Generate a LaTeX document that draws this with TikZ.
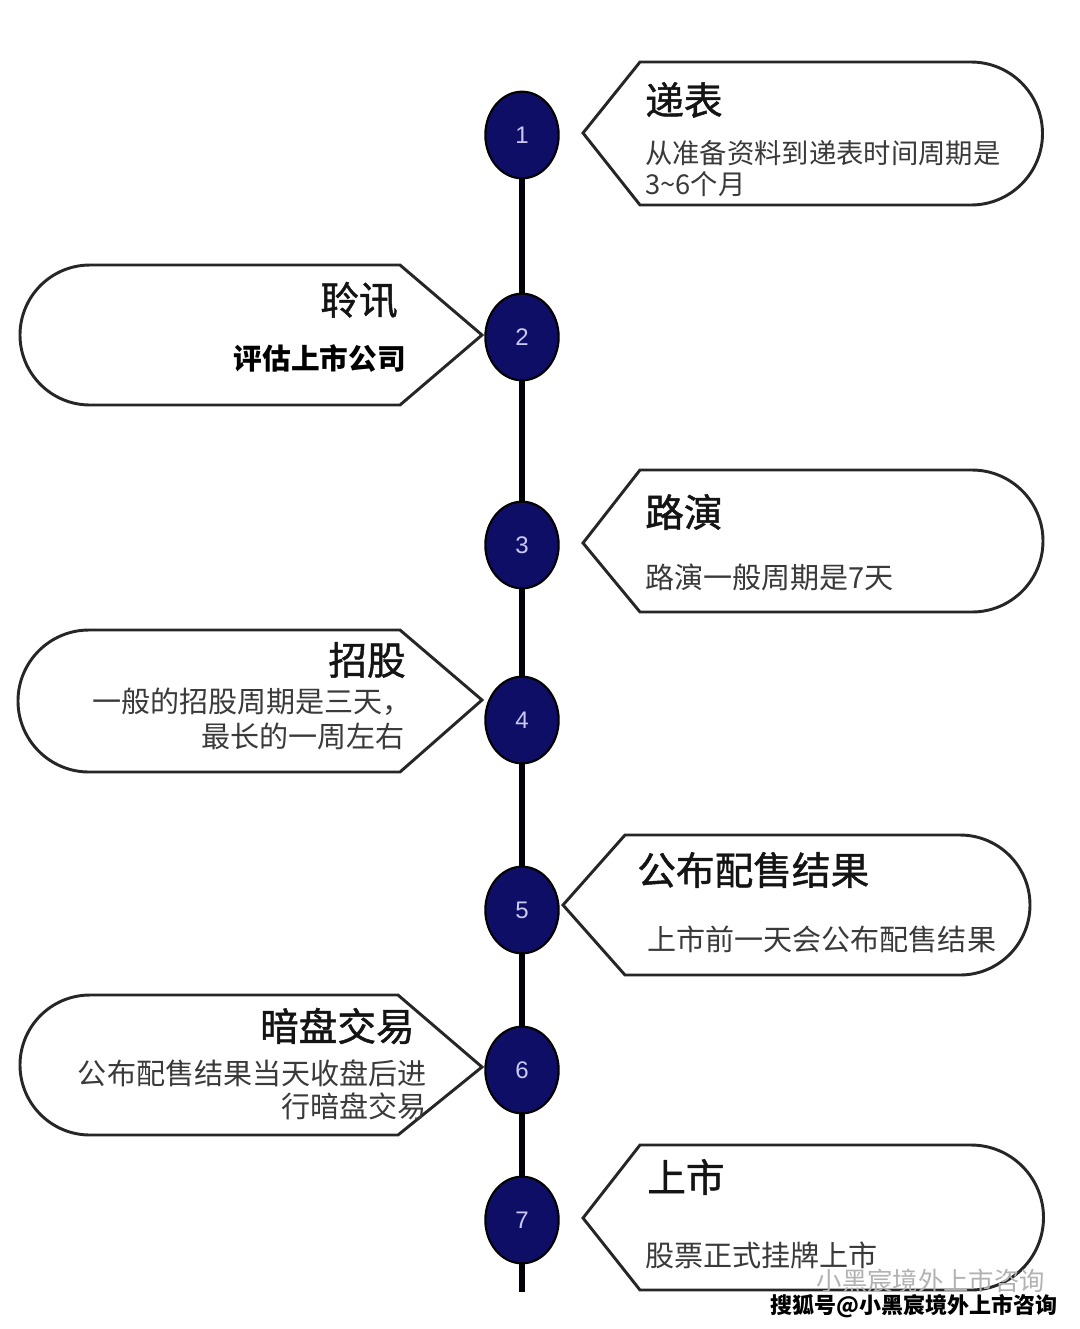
\documentclass[tikz,border=0pt]{standalone}
\usepackage{fontspec}
\setmainfont{Noto Sans CJK SC}
\newfontfamily\numfont{Liberation Sans}
\newfontfamily\ttlfont[FakeBold=1.2]{Noto Sans CJK SC}
\usetikzlibrary{shapes.geometric}
\definecolor{navy}{HTML}{0E0E66}
\definecolor{numcol}{HTML}{C9C9F2}
\definecolor{bodygray}{HTML}{3A3A3A}
\tikzset{
  dotnode/.style={ellipse, draw=black, line width=1.6pt, fill=navy, minimum width=55pt, minimum height=65pt, inner sep=0pt, text=numcol, font=\numfont\fontsize{18}{18}\selectfont},
  callout/.style={draw=black!85, line width=2.2pt, fill=white, line join=miter},
  ttl/.style={inner sep=0pt, text=black!92, font=\ttlfont\fontsize{29}{32}\selectfont},
  bdy/.style={inner sep=0pt, text=bodygray, font=\fontsize{21.8}{24}\selectfont},
  spine/.style={line width=5pt, draw=black!90!navy}
}
\begin{document}
\begin{tikzpicture}[x=0.75pt,y=-0.75pt]
\useasboundingbox[fill=white] (0,0) rectangle (1080,1329);
% spine
\coordinate (top) at (522,100);
\coordinate (bot) at (522,1292);
\draw[spine] (top) -- (bot);
% callouts (right)
\draw[callout] (583,133) coordinate (t1) -- (640,62) -- (971,62) arc[start angle=-90,end angle=90,radius=71.5] -- (640,205) -- cycle;
\draw[callout] (583,543) coordinate (t3) -- (640,470) -- (972,470) arc[start angle=-90,end angle=90,radius=71] -- (640,612) -- cycle;
\draw[callout] (563,905) coordinate (t5) -- (625,835) -- (960,835) arc[start angle=-90,end angle=90,radius=70] -- (625,975) -- cycle;
\draw[callout] (583,1218) coordinate (t7) -- (640,1145) -- (971,1145) arc[start angle=-90,end angle=90,radius=72.5] -- (640,1290) -- cycle;
% callouts (left)
\draw[callout] (482,335) coordinate (t2) -- (400,265) -- (90,265) arc[start angle=-90,end angle=-270,radius=70] -- (400,405) -- cycle;
\draw[callout] (482,700) coordinate (t4) -- (400,630) -- (89,630) arc[start angle=-90,end angle=-270,radius=71] -- (400,772) -- cycle;
\draw[callout] (482,1067) coordinate (t6) -- (398,995) -- (90,995) arc[start angle=-90,end angle=-270,radius=70] -- (398,1135) -- cycle;
% dots
\node[dotnode] (c1) at (522,135) {1};
\node[dotnode] (c2) at (522,337) {2};
\node[dotnode] (c3) at (522,545) {3};
\node[dotnode] (c4) at (522,720) {4};
\node[dotnode] (c5) at (522,910) {5};
\node[dotnode] (c6) at (522,1070) {6};
\node[dotnode] (c7) at (522,1220) {7};
% texts 1
\node[ttl, anchor=west] (h1) at (645,100) {递表};
\node[bdy, anchor=west, font=\fontsize{20.5}{24}\selectfont] (b1a) at (645,153) {从准备资料到递表时间周期是};
\node[bdy, anchor=west, font=\fontsize{20.5}{24}\selectfont] (b1b) at (645,184) {3\textasciitilde 6个月};
% texts 2
\node[ttl, anchor=east] (h2) at (398,300) {聆讯};
\node[inner sep=0pt, anchor=east, font=\bfseries\fontsize{21.5}{24}\selectfont] (b2) at (406,358) {评估上市公司};
% texts 3
\node[ttl, anchor=west] (h3) at (645,512) {路演};
\node[bdy, anchor=west] (b3) at (645,577) {路演一般周期是7天};
% texts 4
\node[ttl, anchor=east] (h4) at (406,660) {招股};
\node[bdy, anchor=east] (b4a) at (412,702) {一般的招股周期是三天，};
\node[bdy, anchor=east] (b4b) at (405,736) {最长的一周左右};
% texts 5
\node[ttl, anchor=west] (h5) at (637,870) {公布配售结果};
\node[bdy, anchor=west] (b5) at (647,939) {上市前一天会公布配售结果};
% texts 6
\node[ttl, anchor=east] (h6) at (415,1026) {暗盘交易};
\node[bdy, anchor=east] (b6a) at (427,1073) {公布配售结果当天收盘后进};
\node[bdy, anchor=east] (b6b) at (427,1106) {行暗盘交易};
% texts 7
\node[ttl, anchor=west] (h7) at (647,1177) {上市};
\node[bdy, anchor=west] (b7) at (645,1255) {股票正式挂牌上市};
% watermarks
\node[inner sep=0pt, anchor=east, text=black!30, font=\fontsize{19}{20}\selectfont] (w1) at (1045,1281) {小黑宸境外上市咨询};
\node[inner sep=0pt, anchor=east, font=\bfseries\fontsize{16.5}{18}\selectfont] (w2) at (1058,1306) {搜狐号@小黑宸境外上市咨询};
\end{tikzpicture}
\end{document}
